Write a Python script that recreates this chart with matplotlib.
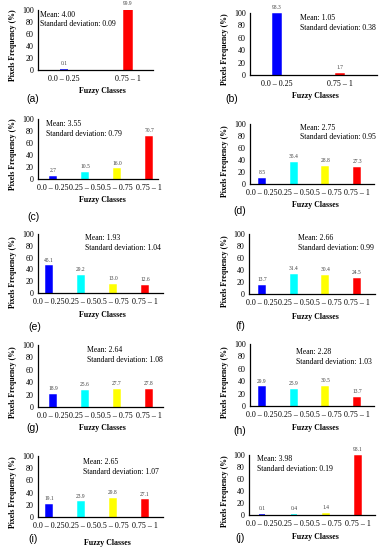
import matplotlib
matplotlib.use("Agg")
import matplotlib.pyplot as plt

# ---------------- data ----------------
classes2 = ["0.0 \u2013 0.25", "0.75 \u2013 1"]
classes4 = ["0.0 \u2013 0.25", "0.25 \u2013 0.5", "0.5 \u2013 0.75", "0.75 \u2013 1"]

vals_a = [0.1, 99.9]
vals_b = [98.3, 1.7]
vals_c = [2.7, 10.5, 16.0, 70.7]
vals_d = [8.5, 35.4, 28.8, 27.3]
vals_e = [45.1, 29.2, 13.0, 12.6]
vals_f = [13.7, 31.4, 30.4, 24.5]
vals_g = [18.9, 25.6, 27.7, 27.8]
vals_h = [29.9, 25.9, 30.5, 13.7]
vals_i = [19.1, 23.9, 29.8, 27.1]
vals_j = [0.1, 0.4, 1.4, 98.1]

means = ["4.00", "1.05", "3.55", "2.75", "1.93", "2.66", "2.64", "2.28", "2.65", "3.98"]
sds = ["0.09", "0.38", "0.79", "0.95", "1.04", "0.99", "1.08", "1.03", "1.07", "0.19"]
panel_tags = ["(a)", "(b)", "(c)", "(d)", "(e)", "(f)", "(g)", "(h)", "(i)", "(j)"]

colors2a = ["#0000FF", "#FF0000"]
colors2b = ["#0000FF", "#FF0000"]
colors4 = ["#0000FF", "#00FFFF", "#FFFF00", "#FF0000"]

panels = [
    (classes2, vals_a, colors2a),
    (classes2, vals_b, colors2b),
    (classes4, vals_c, colors4),
    (classes4, vals_d, colors4),
    (classes4, vals_e, colors4),
    (classes4, vals_f, colors4),
    (classes4, vals_g, colors4),
    (classes4, vals_h, colors4),
    (classes4, vals_i, colors4),
    (classes4, vals_j, colors4),
]

# ---------------- layout (pixels) ----------------
W, H = 383, 550
# (yaxis_x, xaxis_right, y_at_100, y_at_0, first_bar_x, bar_spacing)
axes_px = [
    (38, 153, 10, 70, 64, 64),
    (250, 377, 13, 75, 277, 63),
    (38, 158, 119, 179, 53, 32),
    (250, 374, 124, 184, 262, 31.7),
    (38, 163, 234, 293, 49, 32),
    (249, 375, 234, 294, 262, 31.7),
    (38, 163, 345, 407, 53, 32),
    (250, 374, 344, 406, 262, 31.7),
    (38, 163, 456, 517, 49, 32),
    (249, 375, 455, 515, 262, 32),
]
ylab_px = [(13, 45), (225, 49), (13, 154), (225, 161), (13, 272),
           (225, 271), (13, 382), (225, 382), (13, 492), (225, 491)]
stats_px = [(40, 19.5), (300, 23), (46, 129), (300, 132.5), (85, 243),
            (298, 243), (87, 355), (296, 357), (83, 467), (257, 464)]
tag_px = [(33, 99), (232, 99), (33, 217), (240, 211), (35, 327),
          (240, 326), (33, 428), (240, 431), (33, 539), (240, 538)]
xlab_px = [(102, 91), (315, 96), (102, 200), (315, 205), (102, 315),
           (315, 317), (102, 428), (315, 428), (107, 543), (315, 537)]

serif = ["Liberation Serif", "DejaVu Serif"]
plt.rcParams["font.family"] = serif

fig = plt.figure(figsize=(W / 100, H / 100), dpi=100)

def fx(px):
    return px / W

def fy(py):
    return 1 - py / H

for k, ((cats, vals, cols), (yl, xr, y100, y0, b0, s)) in enumerate(zip(panels, axes_px)):
    ax = fig.add_axes([fx(yl), fy(y0), (xr - yl) / W, (y0 - y100) / H])
    n = len(cats)
    xs = list(range(n))
    bw = 0.13 if n == 2 else 0.19
    ax.bar(xs, vals, width=bw, color=cols, edgecolor=cols, linewidth=1.1)
    xl = (yl - b0) / s
    ax.set_xlim(xl, xl + (xr - yl) / s)
    ax.set_ylim(0, 100)
    ax.set_yticks([0, 20, 40, 60, 80, 100])
    ax.set_xticks(xs)
    ax.set_xticklabels(cats)
    ax.tick_params(axis="both", length=0, labelsize=5.8, colors="black")
    ax.tick_params(axis="x", pad=3.5)
    ax.tick_params(axis="y", pad=3)
    for sp in ["top", "right"]:
        ax.spines[sp].set_visible(False)
    for sp in ["left", "bottom"]:
        ax.spines[sp].set_linewidth(0.9)
        ax.spines[sp].set_color("black")
    for xi, v in zip(xs, vals):
        ax.annotate(f"{v:.1f}", (xi, v), xytext=(0, 2.8), textcoords="offset points",
                    ha="center", va="bottom", fontsize=4.0, color="#404040")
    ax.patch.set_alpha(0)

    fig.text(fx(ylab_px[k][0]), fy(ylab_px[k][1]), "Pixels Frequency (%)", rotation=90,
             ha="center", va="center", fontsize=5.6, fontweight="bold")
    fig.text(fx(stats_px[k][0]), fy(stats_px[k][1]),
             f"Mean: {means[k]}\nStandard deviation: {sds[k]}",
             ha="left", va="center", fontsize=5.6, linespacing=1.3)
    fig.text(fx(xlab_px[k][0]), fy(xlab_px[k][1]), "Fuzzy Classes",
             ha="center", va="center", fontsize=5.7, fontweight="bold")
    fig.text(fx(tag_px[k][0]), fy(tag_px[k][1]), panel_tags[k],
             ha="center", va="center", fontsize=7.5, family=["Liberation Sans", "DejaVu Sans"])

fig.savefig("out.png", dpi=100)
